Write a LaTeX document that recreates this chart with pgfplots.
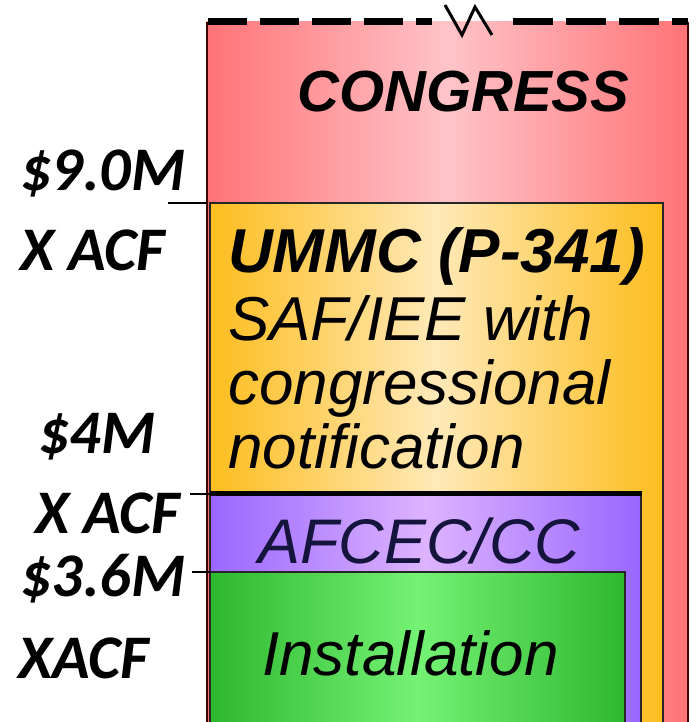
\documentclass[border=0pt]{standalone}
\usepackage{pgfplots}
\pgfplotsset{compat=1.18}
\usepackage{fontspec}
\setmainfont{Liberation Sans}
\newfontfamily\calfont{Carlito}
\definecolor{redE}{HTML}{FF7377}
\definecolor{redM}{HTML}{FFC4C8}
\definecolor{orgE}{HTML}{FDBD1E}
\definecolor{orgM}{HTML}{FFE9B8}
\definecolor{purE}{HTML}{9A66FF}
\definecolor{purM}{HTML}{DDB3FF}
\definecolor{grnE}{HTML}{2EB82E}
\definecolor{grnM}{HTML}{74F274}
\definecolor{navy}{HTML}{14143C}
\begin{document}
\begin{tikzpicture}
\begin{axis}[width=697pt, height=722pt, scale only axis, hide axis,
  xmin=0, xmax=697, ymin=0, ymax=722, y dir=reverse, clip=false]
% CONGRESS box
\addplot[draw=none, left color=redE, right color=redE, middle color=redM] coordinates {(207,722) (207,22) (688,22) (688,722)} -- cycle;
\addplot[draw=black!75!red, line width=1.5pt] coordinates {(207,722) (207,22)};
\addplot[draw=black!75!red, line width=1.5pt] coordinates {(688,22) (688,722)};
% dashed top with break
\addplot[black, line width=7pt, dash pattern=on 39pt off 13pt] coordinates {(208,22) (432,22)};
\addplot[black, line width=3pt] coordinates {(445,5) (462,35) (475,7) (492,35)};
\addplot[black, line width=7pt, dash pattern=on 40pt off 13pt] coordinates {(513,22) (688,22)};
% UMMC box
\addplot[draw=black!85, line width=2pt, left color=orgE, right color=orgE, middle color=orgM] coordinates {(210,722) (210,203) (663,203) (663,722)};
% AFCEC box
\addplot[draw=black!85, line width=2pt, left color=purE, right color=purE, middle color=purM] coordinates {(210,722) (210,493) (641,493) (641,722)};
\addplot[black, line width=5pt] coordinates {(210,493) (642,493)};
% Installation box
\addplot[draw=black!85, line width=2pt, left color=grnE, right color=grnE, middle color=grnM] coordinates {(210,722) (210,572) (625,572) (625,722)};
% left ticks
\addplot[black, line width=1.5pt] coordinates {(168,203) (207,203)};
\addplot[black, line width=1.5pt] coordinates {(190,494) (210,494)};
\addplot[black, line width=1.5pt] coordinates {(192,572) (210,572)};
% box texts
\node[anchor=base west, inner sep=0pt, font=\fontsize{58}{60}\selectfont\bfseries\itshape] at (axis cs:297,112) {CONGRESS};
\node[anchor=base west, inner sep=0pt, font=\fontsize{62}{64}\selectfont\bfseries\itshape] at (axis cs:228,272) {UMMC (P-341)};
\node[anchor=base west, inner sep=0pt, font=\fontsize{62}{64}\selectfont\itshape] at (axis cs:228,340) {SAF/IEE with};
\node[anchor=base west, inner sep=0pt, font=\fontsize{62}{64}\selectfont\itshape] at (axis cs:228,404) {congressional};
\node[anchor=base west, inner sep=0pt, font=\fontsize{62}{64}\selectfont\itshape] at (axis cs:228,468) {notification};
\node[anchor=base west, inner sep=0pt, text=navy, font=\fontsize{63}{65}\selectfont\itshape] at (axis cs:258,563) {AFCEC/CC};
\node[anchor=base west, inner sep=0pt, font=\fontsize{62}{64}\selectfont\itshape] at (axis cs:262,675) {Installation};
% left labels
\node[anchor=base west, inner sep=0pt, font=\fontsize{62}{64}\selectfont\calfont\bfseries\itshape] at (axis cs:20,190) {\$9.0M};
\node[anchor=base west, inner sep=0pt, font=\fontsize{62}{64}\selectfont\calfont\bfseries\itshape] at (axis cs:20,270) {X ACF};
\node[anchor=base west, inner sep=0pt, font=\fontsize{62}{64}\selectfont\calfont\bfseries\itshape] at (axis cs:38,453) {\$4M};
\node[anchor=base west, inner sep=0pt, font=\fontsize{62}{64}\selectfont\calfont\bfseries\itshape] at (axis cs:35,533) {X ACF};
\node[anchor=base west, inner sep=0pt, font=\fontsize{62}{64}\selectfont\calfont\bfseries\itshape] at (axis cs:20,596) {\$3.6M};
\node[anchor=base west, inner sep=0pt, font=\fontsize{62}{64}\selectfont\calfont\bfseries\itshape] at (axis cs:18,678) {XACF};
\end{axis}
\pgfresetboundingbox
\path[use as bounding box] (current axis.south west) rectangle (current axis.north east);
\end{tikzpicture}
\end{document}
